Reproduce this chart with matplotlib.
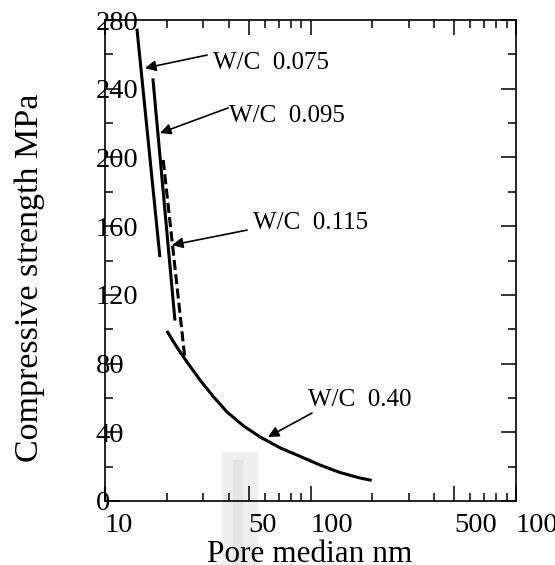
import numpy as np
import matplotlib
matplotlib.use("Agg")
import matplotlib.pyplot as plt
from matplotlib.ticker import FixedLocator
from matplotlib.patches import Rectangle

plt.rcParams['font.family'] = ['Liberation Serif', 'DejaVu Serif']

# curves (pore median nm, strength MPa)
wc075_x = [14.3, 18.5]
wc075_y = [275, 142]
wc095_x = [17.1, 21.9]
wc095_y = [246, 105]
wc115_x = [19.2, 24.5]
wc115_y = [198.5, 82.5]
wc040_x = [20.0, 22.3, 25.0, 29.0, 33.7, 39.1, 47.1, 56.8, 71.0, 88.9, 111, 139, 174, 198.5]
wc040_y = [99.0, 89.8, 81.1, 70.4, 60.7, 52.0, 43.8, 37.3, 31.0, 26.0, 21.0, 16.6, 13.4, 12.0]

# labels: text, text position, arrow tail, arrow tip
labels = ["W/C  0.075", "W/C  0.095", "W/C  0.115", "W/C  0.40"]
label_pos = [(33.5, 255), (40.1, 224), (52.5, 162), (97.2, 59)]
arrow_tail = [(31.4, 259.6), (39.7, 228.8), (49.1, 157.7), (101.7, 51.2)]
arrow_tip = [(15.65, 252.0), (18.52, 214.2), (21.2, 149.0), (62.1, 37.3)]

x_major = [10, 50, 100, 500, 1000]
x_minor = [20, 30, 40, 60, 70, 80, 90, 200, 300, 400, 600, 700, 800, 900]

fig = plt.figure(figsize=(5.55, 5.65), dpi=100)
ax = fig.add_axes([105/555, 1 - 501/565, 411/555, 481/565])
ax.patch.set_visible(False)

# faint scan mark near the bottom
fig.patches.append(Rectangle((222/555, 0), 35/555, 113/565, transform=fig.transFigure,
                             color='#efefef', zorder=-5))
fig.patches.append(Rectangle((233/555, 0), 9/555, 105/565, transform=fig.transFigure,
                             color='#e4e4e4', zorder=-4))

lw = 2.2
ax.plot(wc075_x, wc075_y, color='black', lw=lw, solid_capstyle='butt')
ax.plot(wc095_x, wc095_y, color='black', lw=lw, solid_capstyle='butt')
ax.plot(wc115_x, wc115_y, color='black', lw=lw, ls=(0, (3.3, 1.4)))
ax.plot(wc040_x, wc040_y, color='black', lw=lw, solid_capstyle='butt',
        solid_joinstyle='round')

for txt, pos, tail, tip in zip(labels, label_pos, arrow_tail, arrow_tip):
    ax.text(pos[0], pos[1], txt, fontsize=18, ha='left', va='center')
    ax.annotate('', xy=tip, xytext=tail,
                arrowprops=dict(arrowstyle='-|>', color='black', lw=1.2,
                                mutation_scale=16, shrinkA=0, shrinkB=0))

ax.set_xscale('log')
ax.set_xlim(10, 1000)
ax.set_ylim(0, 280)
ax.xaxis.set_major_locator(FixedLocator(x_major))
ax.xaxis.set_minor_locator(FixedLocator(x_minor))
ax.set_xticklabels([str(v) for v in x_major])
ax.set_yticks(np.arange(0, 281, 40))
ax.set_yticks(np.arange(0, 281, 20), minor=True)

ax.tick_params(which='both', direction='in', top=True, right=True, width=1.1,
               labelsize=20.5)
ax.tick_params(which='major', length=11)
ax.tick_params(which='minor', length=5.5)
ax.tick_params(axis='x', which='major', pad=9)
ax.tick_params(axis='y', which='major', pad=6.5)
for lab in ax.get_xticklabels():
    lab.set_ha('left')
for lab in ax.get_yticklabels():
    lab.set_ha('left')
for sp in ax.spines.values():
    sp.set_linewidth(1.2)

fig.text(310/555, 3/565, 'Pore median nm', fontsize=22.5, ha='center', va='baseline')
fig.text(30/555, 1 - 278/565, 'Compressive strength MPa', fontsize=24.5,
         rotation=90, ha='center', va='center')

fig.savefig('out.png', dpi=100)
